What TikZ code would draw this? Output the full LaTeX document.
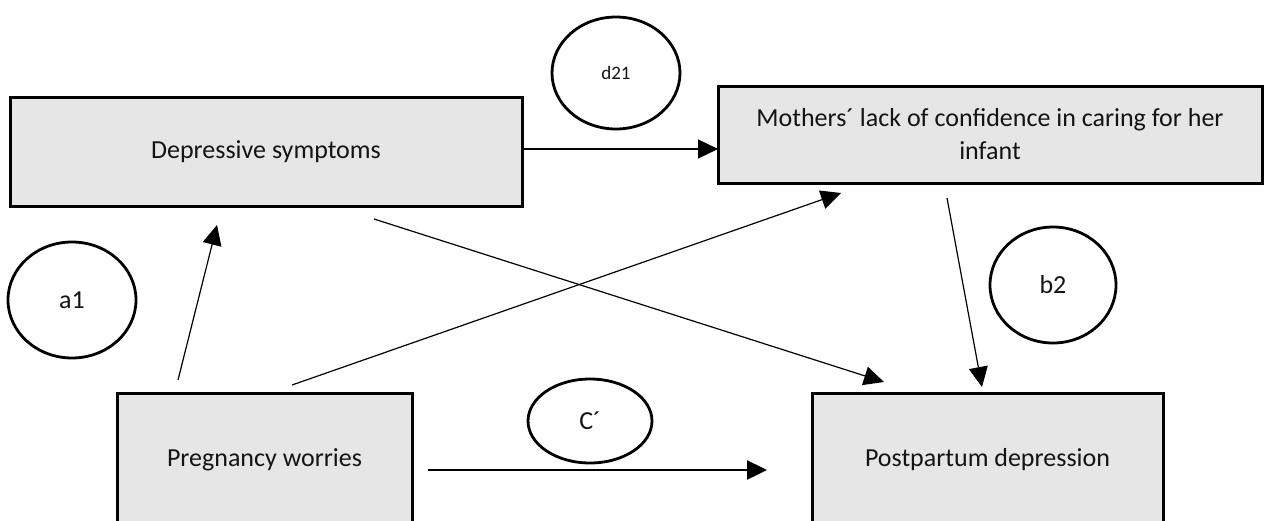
\documentclass[tikz,border=0pt]{standalone}
\usepackage{fontspec}
\setmainfont{Carlito}
\usetikzlibrary{arrows.meta}
\definecolor{boxgray}{RGB}{231,230,230}
\definecolor{txt}{RGB}{20,20,20}
\tikzset{
  box/.style={draw=black, line width=3pt, fill=boxgray, inner sep=0pt, text=txt,
    font=\fontsize{26}{33}\selectfont, align=center},
  lbl/.style={draw=black, line width=2.8pt, fill=white, shape=ellipse, inner sep=0pt,
    text=txt, font=\fontsize{26}{30}\selectfont},
  conn/.style={line width=1.2pt, -{Triangle[length=20pt,width=19pt]}},
  thickconn/.style={line width=2.4pt, -{Triangle[length=20pt,width=19pt]}}
}
\pgfdeclareshape{ellipse}{\inheritsavedanchors[from=circle]\inheritanchor[from=circle]{center}}
\begin{document}
\begin{tikzpicture}[x=1pt,y=-1pt]
\useasboundingbox (0,0) rectangle (1264,520);
% boxes
\node[box, minimum width=512pt, minimum height=109pt] (dep) at (266,151.5) {Depressive symptoms};
\node[box, minimum width=544pt, minimum height=97pt] (moth) at (990,134.5)
  {Mothers\textasciiacute{} lack of confidence in caring for her\\infant};
\node[box, minimum width=295pt, minimum height=134pt] (preg) at (264.5,460) {Pregnancy worries};
\node[box, minimum width=351pt, minimum height=134pt] (post) at (987.5,460) {Postpartum depression};
% labels
\draw[line width=2.8pt, fill=white] (616,73) ellipse [x radius=64, y radius=56];
\node[text=txt, font=\fontsize{19}{22}\selectfont] (d21) at (616,73) {d21};
\draw[line width=2.8pt, fill=white] (72,300) ellipse [x radius=64, y radius=58];
\node[text=txt, font=\fontsize{26}{30}\selectfont] (a1) at (72,300) {a1};
\draw[line width=2.8pt, fill=white] (1053,285) ellipse [x radius=63, y radius=58];
\node[text=txt, font=\fontsize{26}{30}\selectfont] (b2) at (1053,285) {b2};
\draw[line width=2.8pt, fill=white] (590,421) ellipse [x radius=62, y radius=42];
\node[text=txt, font=\fontsize{26}{30}\selectfont] (cp) at (590,421) {C\textasciiacute};
% connector end points
\coordinate (p1s) at (178,380); \coordinate (p1e) at (217,225);
\coordinate (p2s) at (292,385); \coordinate (p2e) at (841,193);
\coordinate (p3s) at (374,219); \coordinate (p3e) at (884,382);
\coordinate (p4s) at (947,198); \coordinate (p4e) at (982,387);
\coordinate (p5s) at (522,149); \coordinate (p5e) at (718,149);
\coordinate (p6s) at (428,470); \coordinate (p6e) at (767,470);
\draw[conn] (p1s) -- (p1e);
\draw[conn] (p2s) -- (p2e);
\draw[conn] (p3s) -- (p3e);
\draw[conn] (p4s) -- (p4e);
\draw[conn] (p5s) -- (p5e);
\draw[thickconn] (p6s) -- (p6e);
\end{tikzpicture}
\end{document}
